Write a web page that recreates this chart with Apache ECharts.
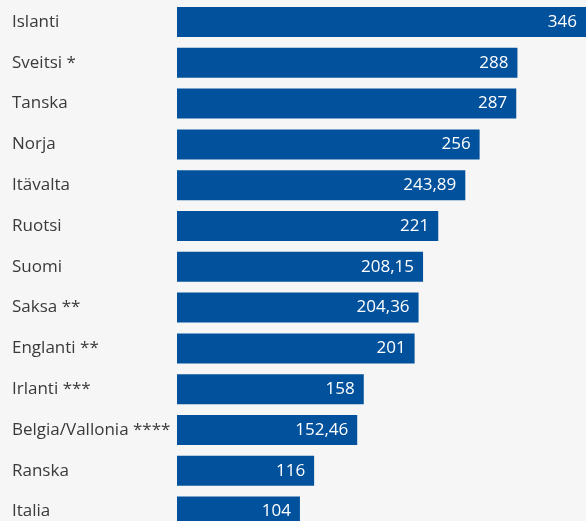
<!DOCTYPE html>
<html>
<head>
<meta charset="utf-8">
<script src="https://cdn.jsdelivr.net/npm/echarts@6/dist/echarts.min.js"></script>
<style>
    html, body { margin: 0; padding: 0; background: #f6f6f6; overflow: hidden; }
    #chart { width: 586px; height: 532px; }
</style>
</head>
<body>
<div id="chart"></div>
<script>
    // maat (ylhäältä alas)
    var countries = ['Islanti', 'Sveitsi *', 'Tanska', 'Norja', 'Itävalta', 'Ruotsi', 'Suomi',
        'Saksa **', 'Englanti **', 'Irlanti ***', 'Belgia/Vallonia ****', 'Ranska', 'Italia']
    var values = [346, 288, 287, 256, 243.89, 221, 208.15, 204.36, 201, 158, 152.46, 116, 104]

    var chart = echarts.init(document.getElementById('chart'))
    chart.setOption({
        backgroundColor: '#f6f6f6',
        animation: false,
        grid: { left: 177, right: 0, top: 1.6, bottom: 0 },
        xAxis: {
            type: 'value',
            min: 0,
            max: 346,
            show: false
        },
        yAxis: {
            type: 'category',
            inverse: true,
            data: countries,
            axisLine: { show: false },
            axisTick: { show: false },
            axisLabel: {
                align: 'left',
                margin: 165,
                color: '#3a3a3a',
                fontSize: 17,
                fontFamily: 'Open Sans'
            }
        },
        series: [{
            type: 'bar',
            data: values,
            barWidth: 30,
            itemStyle: { color: '#02519c' },
            label: {
                show: true,
                position: 'insideRight',
                distance: 9,
                color: '#fff',
                fontSize: 17,
                fontFamily: 'Open Sans',
                formatter: function (p) {
                    return String(p.value).replace('.', ',')
                }
            }
        }]
    })
</script>
</body>
</html>
